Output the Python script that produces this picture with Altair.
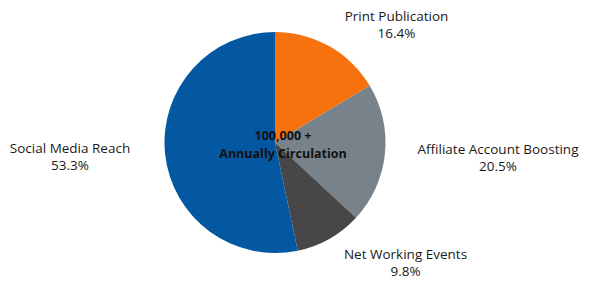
import altair as alt
import pandas as pd

categories = ["Print Publication", "Affiliate Account Boosting", "Net Working Events", "Social Media Reach"]
values = [16.4, 20.5, 9.8, 53.3]
colors = ["#F5720F", "#78828B", "#474747", "#0458A2"]
center_lines = ["100,000 +", "Annually Circulation"]

df = pd.DataFrame({"category": categories, "value": values, "order": list(range(len(categories)))})

CX, CY, R = 267, 134.5, 110.5
FONT = "Open Sans"

base = alt.Chart(df)

pie = base.mark_arc(x=CX, y=CY, outerRadius=R, stroke=None).encode(
    theta=alt.Theta("value:Q", stack=True),
    order=alt.Order("order:Q"),
    color=alt.Color("category:N", scale=alt.Scale(domain=categories, range=colors), legend=None),
)

# label anchor positions (layout only; first line centre)
label_pos = {
    "Print Publication": (388.5, 8.5),
    "Affiliate Account Boosting": (490, 142),
    "Net Working Events": (397.5, 246.5),
    "Social Media Reach": (62, 140.5),
}

layers = [pie]
for cat in categories:
    lx, ly = label_pos[cat]
    t = base.transform_filter(alt.datum.category == cat).transform_calculate(
        label=alt.datum.category + "\n" + alt.expr.format(alt.datum.value, ".1f") + "%"
    ).mark_text(
        x=lx, y=ly, align="center", baseline="middle", lineBreak="\n", lineHeight=17,
        font=FONT, fontSize=13.5, color="#1a1a1a"
    ).encode(text="label:N")
    layers.append(t)

center = alt.Chart(pd.DataFrame({"t": ["\n".join(center_lines)]})).mark_text(
    x=275, y=127.5, align="center", baseline="middle", lineBreak="\n", lineHeight=18,
    font=FONT, fontSize=12.5, fontWeight="bold", color="#111111"
).encode(text="t:N")
layers.append(center)

chart = alt.layer(*layers).properties(
    width=575, height=272, autosize=alt.AutoSizeParams(type="none"), padding=0
).configure_view(stroke=None).configure(background="white")

chart.save("out.html", embed_options={"renderer": "svg", "actions": False})
